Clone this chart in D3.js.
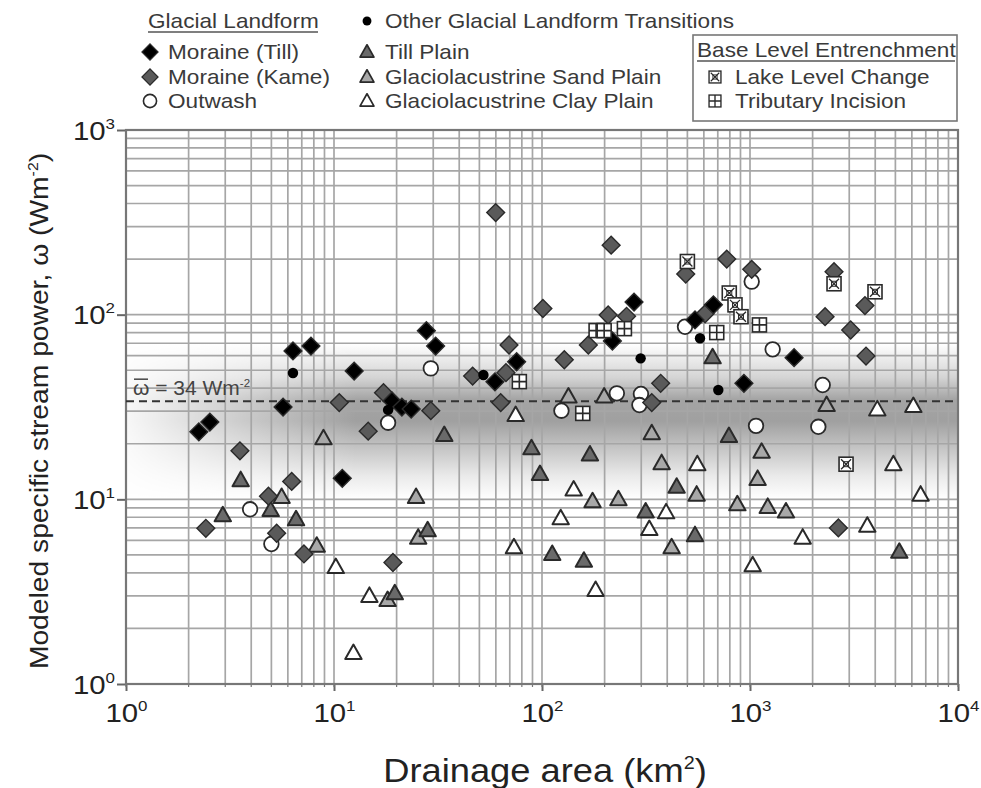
<!DOCTYPE html>
<html><head><meta charset="utf-8">
<script src="https://cdn.jsdelivr.net/npm/d3@7"></script>
<style>body{margin:0;background:#fff} text{font-family:"Liberation Sans",Arial,Helvetica,sans-serif}</style>
</head><body><svg id="c" width="981" height="788"></svg>
<script>
// ---------------- DATA (drainage area km², stream power W/m²) ----------------
const moraineTill = [[2.24,23.2],[2.53,26.2],[6.35,63.6],[7.75,67.6],[5.69,31.6],[10.96,13.0],[12.5,49.5],[19.0,34.1],[21.2,31.6],[23.5,30.8],[27.8,81.9],[30.8,67.6],[59.4,43.3],[75.5,55.6],[218,72],[277,117],[544,93.6],[667,113],[1629,58.5],[935,42.5]];
const moraineKame = [[2.42,6.97],[3.53,18.3],[4.84,10.4],[5.3,6.55],[6.26,12.5],[7.17,5.06],[10.6,33.4],[14.6,23.4],[17.3,37.8],[19.2,4.55],[29.2,30.2],[46.4,46.5],[59.9,357],[63.3,33.4],[67.1,48.5],[69.4,68.5],[101,108],[128,57],[167,68.5],[208,99.6],[215,238],[255,98],[337,33.4],[372,42.5],[491,166],[608,101],[773,200],[1019,176],[2296,97.5],[2535,171],[2660,7.0],[3048,82.6],[3570,112],[3612,59.7]];
const outwash = [[3.95,8.83],[5.0,5.73],[18.2,26],[29.2,51.2],[124,30.2],[229,37.5],[299,37.2],[294,32.4],[487,86],[1019,151],[1285,64.9],[2236,41.6],[1069,25],[2130,24.7]];
const otherTransitions = [[6.35,48.3],[18.2,30.5],[52.3,47.1],[298,58],[575,74.5],[704,39.1]];
const tillPlain = [[3.56,12.7],[4.96,8.75],[2.92,8.2],[6.57,7.8],[19.6,3.1],[33.9,22.3],[28.2,6.8],[89,18.9],[170,17.5],[97.8,13.7],[444,11.7],[315,8.6],[544,6.4],[112,5.06],[159,4.65],[792,22],[5222,5.2],[661,58.8]];
const sandPlain = [[8.9,21.4],[5.6,10.3],[8.26,5.61],[18.1,2.85],[24.8,10.3],[25.4,6.2],[134,36],[199,36],[337,22.8],[376,15.7],[175,9.75],[233,10],[554,10.6],[420,5.5],[1137,18.1],[1088,12.9],[869,9.4],[1217,9.1],[1489,8.6],[2335,32.4]];
const clayPlain = [[10.2,4.3],[14.8,3.0],[12.4,1.47],[74.7,28.6],[73.3,5.5],[123,7.9],[142,11.3],[181,3.23],[328,6.9],[395,8.5],[558,15.5],[1030,4.4],[1792,6.2],[3664,7.2],[4890,15.5],[6610,10.6],[4093,30.7],[6100,32]];
const lakeLevel = [[500,194],[795,131],[847,113],[905,97.5],[2535,147],[3990,133],[2896,15.5]];
const tributary = [[77.8,43.4],[157,29.2],[182,82],[199,82],[249,84],[692,80],[1110,88]];
const meanPower = 34;
const xTicks = [1,10,100,1000,10000];
const yTicks = [1,10,100,1000];
const xExp = ["0","1","2","3","4"];
const yExp = ["0","1","2","3"];
const legendLeft = ["Moraine (Till)","Moraine (Kame)","Outwash"];
const legendMid = ["Other Glacial Landform Transitions","Till Plain","Glaciolacustrine Sand Plain","Glaciolacustrine Clay Plain"];
const legendBox = ["Lake Level Change","Tributary Incision"];

// ---------------- LAYOUT ----------------
const P = {left:126, right:958, top:130, bottom:684};
const SX = 1.13; // horizontal glyph stretch of the original typography
const x = d3.scaleLog().domain([1,1e4]).range([P.left,P.right]);
const y = d3.scaleLog().domain([1,1e3]).range([P.bottom,P.top]);
const svg = d3.select("#c");
const defs = svg.append("defs");
function T(parent, X, Y, s){ return parent.append("text").attr("transform",`translate(${X},${Y}) scale(${s||SX},1)`); }

// shaded band around mean
const vg = defs.append("linearGradient").attr("id","vg").attr("x1",0).attr("x2",0).attr("y1",0).attr("y2",1);
[[0,"#ffffff"],[0.22,"#d4d4d4"],[0.36,"#a4a4a4"],[0.5,"#a0a0a0"],[0.65,"#c0c0c0"],[0.85,"#eaeaea"],[1,"#ffffff"]]
  .forEach(s=>vg.append("stop").attr("offset",s[0]).attr("stop-color",s[1]));
const hg = defs.append("linearGradient").attr("id","hg").attr("gradientUnits","userSpaceOnUse")
  .attr("x1",P.left).attr("x2",P.left+230).attr("y1",0).attr("y2",0);
hg.append("stop").attr("offset",0).attr("stop-color","#141414");
hg.append("stop").attr("offset",1).attr("stop-color","#ffffff");
defs.append("mask").attr("id","hm").append("rect").attr("x",P.left).attr("y",0).attr("width",P.right-P.left).attr("height",788).attr("fill","url(#hg)");
svg.append("rect").attr("x",P.left).attr("y",y(70)).attr("width",P.right-P.left).attr("height",y(10)-y(70))
  .attr("fill","url(#vg)").attr("mask","url(#hm)");

// gridlines
const gx=[],gy=[];
for(let d=0; d<4; d++) for(let k=1;k<10;k++){ gx.push(k*Math.pow(10,d)); }
gx.push(1e4);
for(let d=0; d<3; d++) for(let k=1;k<10;k++){ gy.push(k*Math.pow(10,d)); }
gy.push(1e3);
const grid = svg.append("g");
grid.selectAll("line.gx").data(gx).join("line").attr("x1",d=>x(d)).attr("x2",d=>x(d)).attr("y1",P.top).attr("y2",P.bottom)
  .attr("stroke","#a6a6a6").attr("stroke-width",1.7);
grid.selectAll("line.gy").data(gy).join("line").attr("y1",d=>y(d)).attr("y2",d=>y(d)).attr("x1",P.left).attr("x2",P.right)
  .attr("stroke","#a6a6a6").attr("stroke-width",1.7);

// axes
const xa = svg.append("g").attr("transform",`translate(0,${P.bottom})`)
  .call(d3.axisBottom(x).tickValues(xTicks).tickSize(7).tickFormat(""));
const ya = svg.append("g").attr("transform",`translate(${P.left},0)`)
  .call(d3.axisLeft(y).tickValues(yTicks).tickSize(9).tickFormat(""));
[xa,ya].forEach(a=>{a.select(".domain").remove(); a.selectAll("line").attr("stroke","#666").attr("stroke-width",2);});
svg.append("g").selectAll("line").data(gx).join("line").attr("x1",d=>x(d)).attr("x2",d=>x(d)).attr("y1",P.bottom).attr("y2",P.bottom+3).attr("stroke","#777").attr("stroke-width",1.2);

xa.selectAll(".tick").each(function(d,i){
  const t=T(d3.select(this),0,38).attr("fill","#222").attr("font-size",26).attr("text-anchor","middle");
  t.append("tspan").text("10");
  t.append("tspan").attr("dy",-11).attr("font-size",15).text(xExp[i]);
});
ya.selectAll(".tick").each(function(d,i){
  const t=T(d3.select(this),-11,9).attr("fill","#222").attr("font-size",26).attr("text-anchor","end");
  t.append("tspan").text("10");
  t.append("tspan").attr("dy",-11).attr("font-size",15).text(yExp[i]);
});

// frame
svg.append("rect").attr("x",P.left).attr("y",P.top).attr("width",P.right-P.left).attr("height",P.bottom-P.top)
  .attr("fill","none").attr("stroke","#777").attr("stroke-width",2.2);

// mean line
svg.append("line").attr("x1",P.left).attr("x2",P.right).attr("y1",y(meanPower)).attr("y2",y(meanPower))
  .attr("stroke","#333").attr("stroke-width",2).attr("stroke-dasharray","8,5");
const ml = T(svg,P.left+7,y(meanPower)-6,1.05).attr("font-size",20).attr("fill","#444");
ml.append("tspan").text("ω = "+meanPower+" Wm");
ml.append("tspan").attr("dy",-8).attr("font-size",11).text("-2");
svg.append("line").attr("x1",P.left+8).attr("x2",P.left+22).attr("y1",y(meanPower)-22).attr("y2",y(meanPower)-22).attr("stroke","#444").attr("stroke-width",1.5);

// ---------------- MARKERS ----------------
const stroke="#2a2a2a";
function diamond(g,fill){ g.append("rect").attr("x",-6.3).attr("y",-6.3).attr("width",12.6).attr("height",12.6)
  .attr("transform","rotate(45)").attr("fill",fill).attr("stroke",stroke).attr("stroke-width",1.4); }
function circle(g){ g.append("circle").attr("r",7.3).attr("fill","#fff").attr("stroke",stroke).attr("stroke-width",1.8); }
function dot(g){ g.append("circle").attr("r",5.2).attr("fill","#000"); }
function tri(g,fill){ g.append("path").attr("d","M0,-8.5L8.2,6L-8.2,6Z").attr("fill",fill).attr("stroke",stroke).attr("stroke-width",2).attr("stroke-linejoin","round"); }
function lake(g){ g.append("rect").attr("x",-7).attr("y",-7).attr("width",14).attr("height",14).attr("fill","#fff").attr("stroke",stroke).attr("stroke-width",1.6);
  g.append("path").attr("d","M-5,-5L5,5M5,-5L-5,5").attr("stroke",stroke).attr("stroke-width",1.3);
  g.append("rect").attr("x",-2.5).attr("y",-2.5).attr("width",5).attr("height",5).attr("fill","none").attr("stroke",stroke).attr("stroke-width",1); }
function trib(g){ g.append("rect").attr("x",-7).attr("y",-7).attr("width",14).attr("height",14).attr("fill","#fff").attr("stroke",stroke).attr("stroke-width",1.6);
  g.append("path").attr("d","M0,-7V7M-7,0H7").attr("stroke",stroke).attr("stroke-width",1.6); }

const series = [
  [clayPlain, g=>tri(g,"#ffffff")],
  [sandPlain, g=>tri(g,"#a8a8a8")],
  [tillPlain, g=>tri(g,"#6a6a6a")],
  [outwash, circle],
  [moraineKame, g=>diamond(g,"#5a5a5a")],
  [moraineTill, g=>diamond(g,"#000")],
  [otherTransitions, dot],
  [tributary, trib],
  [lakeLevel, lake]
];
const pts = svg.append("g");
series.forEach(([data,draw])=>{
  pts.append("g").selectAll("g").data(data).join("g")
    .attr("transform",d=>`translate(${x(d[0])},${y(d[1])})`).each(function(){draw(d3.select(this));});
});

// ---------------- LEGEND ----------------
const lg = svg.append("g").attr("fill","#3a3a3a").attr("font-size",20);
T(lg,148,28).text("Glacial Landform");
lg.append("line").attr("x1",148).attr("x2",318).attr("y1",32).attr("y2",32).attr("stroke","#555").attr("stroke-width",1.3);
const rowY=[52,77,101];
const leftDraw=[g=>diamond(g,"#000"),g=>diamond(g,"#5a5a5a"),circle];
legendLeft.forEach((t,i)=>{
  leftDraw[i](lg.append("g").attr("transform",`translate(150,${rowY[i]}) scale(0.9)`));
  T(lg,168,rowY[i]+7).text(t);
});
const midDraw=[dot,g=>tri(g,"#6a6a6a"),g=>tri(g,"#a8a8a8"),g=>tri(g,"#ffffff")];
const midY=[21,52,77,101];
legendMid.forEach((t,i)=>{
  midDraw[i](lg.append("g").attr("transform",`translate(367,${midY[i]}) scale(0.85)`));
  T(lg,385,midY[i]+7).text(t);
});
lg.append("rect").attr("x",693).attr("y",35).attr("width",264).attr("height",86).attr("fill","#fff").attr("stroke","#777").attr("stroke-width",1.6);
T(lg,697,57).text("Base Level Entrenchment");
lg.append("line").attr("x1",697).attr("x2",955).attr("y1",61).attr("y2",61).attr("stroke","#555").attr("stroke-width",1.3);
const boxDraw=[lake,trib];
legendBox.forEach((t,i)=>{
  boxDraw[i](lg.append("g").attr("transform",`translate(715,${rowY[i+1]}) scale(0.85)`));
  T(lg,735,rowY[i+1]+7).text(t);
});

// ---------------- AXIS TITLES ----------------
const xt = T(svg,545,782,1.1).attr("text-anchor","middle").attr("font-size",33).attr("fill","#222");
xt.append("tspan").text("Drainage area (km");
xt.append("tspan").attr("dy",-13).attr("font-size",18).text("2");
xt.append("tspan").attr("dy",13).text(")");
const yt = svg.append("text").attr("transform",`translate(48,411) rotate(-90) scale(${SX},1)`).attr("text-anchor","middle").attr("font-size",25).attr("fill","#222");
yt.append("tspan").text("Modeled specific stream power, ω (Wm");
yt.append("tspan").attr("dy",-10).attr("font-size",14).text("-2");
yt.append("tspan").attr("dy",10).text(")");
</script></body></html>
